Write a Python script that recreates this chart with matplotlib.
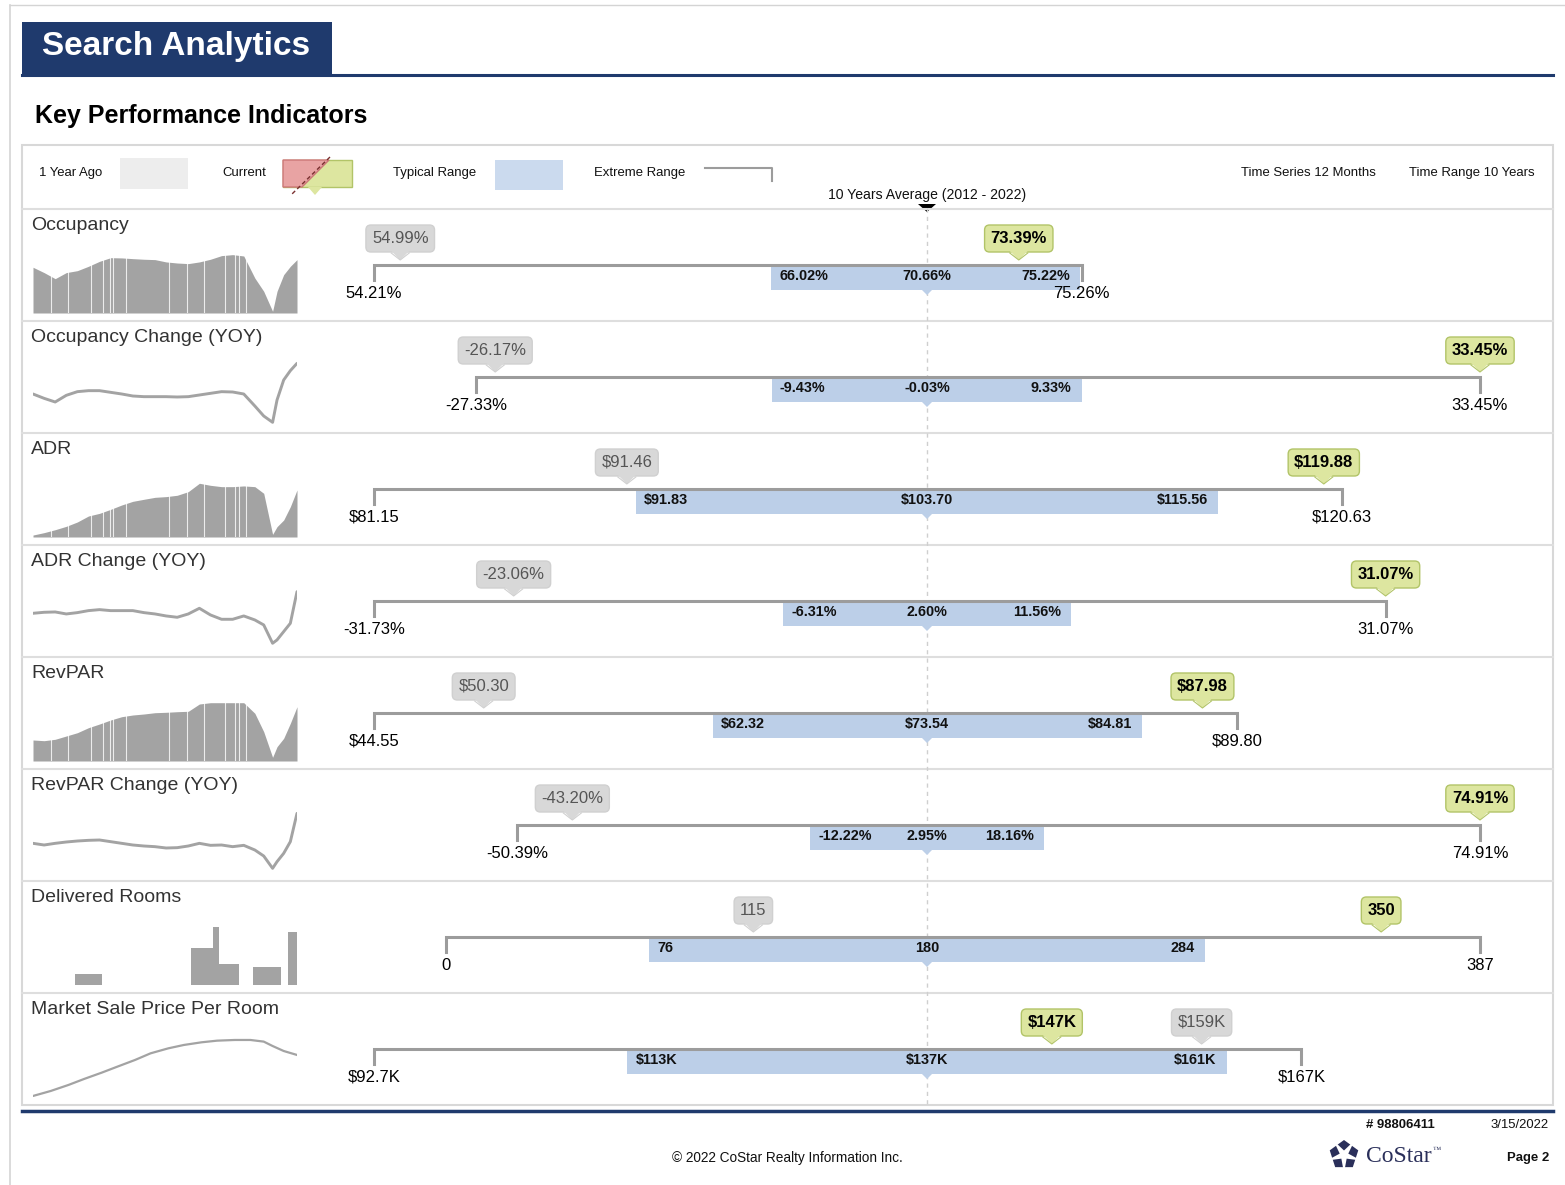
import matplotlib
matplotlib.use("Agg")
import matplotlib.pyplot as plt
from matplotlib import font_manager as fm
from matplotlib.patches import Rectangle, Polygon
import numpy as np

# KPI ranges over 10 years
kpi_names = ["Occupancy", "Occupancy Change (YOY)", "ADR", "ADR Change (YOY)",
             "RevPAR", "RevPAR Change (YOY)", "Delivered Rooms",
             "Market Sale Price Per Room"]
kpi_fmt = ["pct", "pct", "usd", "pct", "usd", "pct", "int", "usdk"]
extreme_min = [54.21, -27.33, 81.15, -31.73, 44.55, -50.39, 0, 92.7]
extreme_max = [75.26, 33.45, 120.63, 31.07, 89.80, 74.91, 387, 167]
typical_low = [66.02, -9.43, 91.83, -6.31, 62.32, -12.22, 76, 113]
ten_yr_avg = [70.66, -0.03, 103.70, 2.60, 73.54, 2.95, 180, 137]
typical_high = [75.22, 9.33, 115.56, 11.56, 84.81, 18.16, 284, 161]
year_ago = [54.99, -26.17, 91.46, -23.06, 50.30, -43.20, 115, 159]
current = [73.39, 33.45, 119.88, 31.07, 87.98, 74.91, 350, 147]

# sparklines, month index over the 10 year window
months = [0, 5, 10, 15, 20, 25, 30, 35, 40, 45, 50, 55, 60, 65, 70, 75, 80,
          85, 90, 95, 100, 104, 108, 110, 113, 116, 119]
occ_spark = [64.9, 60.5, 55.5, 60.5, 62.1, 65.7, 69.8, 72.8, 72.6, 72.0, 71.5,
             71.2, 69.3, 68.4, 67.9, 69.3, 71.5, 74.5, 75.3, 74.2, 56.0, 45.1,
             28.6, 45.1, 58.8, 65.7, 71.2]
occ_chg_spark = [4, -2.5, -8, 2, 7.5, 9, 9, 6.5, 4, 1, 0, 0, 0, -0.5, 0, 2.5,
                 5, 7.5, 7, 4, -14, -29, -38.5, -5, 25, 39, 50]
adr_spark = [61.1, 63.8, 67.1, 70.9, 75.8, 82.5, 85.5, 90.0, 94.9, 99.0, 101.3,
             103.5, 104.3, 105.8, 109.9, 119.3, 117.0, 115.5, 115.5, 116.3,
             115.5, 108.0, 61.9, 70.5, 78.0, 93.0, 111.8]
adr_chg_spark = [0, 1.2, 1.6, -0.8, 0.8, 3.2, 4.4, 3.2, 3.2, 3.2, 0.8, -0.8,
                 -3.2, -4.8, -0.8, 6, -2, -7.2, -7.2, -3.2, -8, -14, -36, -32,
                 -22, -12, 26]
revpar_spark = [50.0, 49.3, 50.7, 54.0, 57.3, 62.3, 66.0, 70.0, 73.3, 75.0,
                76.0, 77.3, 77.7, 78.3, 78.7, 86.0, 87.3, 87.3, 87.3, 87.3,
                76.7, 58.3, 32.7, 43.3, 51.7, 66.7, 83.3]
revpar_chg_spark = [2.5, 0, 2.5, 4.5, 6, 7, 7.5, 5, 2.5, 0, -1.5, -2.5, -4.5,
                    -4, -1.5, 2.5, -0.5, 0, -2.5, -0.5, -7.5, -16.5, -35, -25,
                    -12.5, 5, 47.5]
deliv_start = [19, 71, 81, 84, 99, 115]
deliv_len = [12, 10, 3, 9, 13, 5]
deliv_rooms = [50, 165, 262, 95, 80, 240]
price_months = [0, 8, 16, 23, 31, 38, 46, 53, 61, 68, 76, 83, 91, 98, 104,
                108, 113, 119]
price_spark = [95.0, 100.8, 107.8, 114.7, 122.1, 129.0, 136.8, 144.5, 150.3,
               154.2, 157.3, 159.2, 160.0, 160.0, 158.1, 153.0, 147.2, 142.6]

spark_data = [occ_spark, occ_chg_spark, adr_spark, adr_chg_spark,
              revpar_spark, revpar_chg_spark, None, price_spark]
spark_kind = ["area", "line", "area", "line", "area", "line", "bars", "price"]
spark_ylim = [(27.2, 88.2), (-42.5, 68.5), (58.9, 142.1), (-42.9, 46),
              (29, 103), (-42, 69), (0, 333), (93.8, 179.7)]
gap_months = [8, 16, 26, 31.5, 34.5, 36, 42, 61.5, 69.5, 77, 86.5, 91, 93, 96]


def has_font(name):
    try:
        fm.findfont(fm.FontProperties(family=name), fallback_to_default=False)
        return True
    except ValueError:
        return False


REG = "Liberation Sans"
if has_font("Liberation Sans Narrow"):
    NAR, NS = "Liberation Sans Narrow", 1.0
else:
    NAR, NS = "Liberation Sans", 0.82

NAVY = "#1f3a6d"
GRAY_LINE = "#9c9c9c"
BAR_BLUE = "#bccfe8"
SPARK = "#a3a3a3"
INK = "#111111"

W, H = 1565, 1185
fig = plt.figure(figsize=(W / 100, H / 100), dpi=100)
page = fig.add_axes([0, 0, 1, 1])
page.set_xlim(0, W)
page.set_ylim(H, 0)
page.axis("off")


def pax(x0, y0, x1, y1):
    a = fig.add_axes([x0 / W, 1 - y1 / H, (x1 - x0) / W, (y1 - y0) / H])
    a.axis("off")
    return a


def txt(ax, x, y, s, size, family=REG, **kw):
    kw.setdefault("va", "center")
    return ax.text(x, y, s, fontsize=size, family=family, parse_math=False, **kw)


def fmt(v, kind):
    if kind == "pct":
        return f"{v:.2f}%"
    if kind == "usd":
        return f"${v:.2f}"
    if kind == "usdk":
        return f"${v:g}K"
    return f"{v:g}"


# page frame
page.plot([10, W], [5, 5], color="#d4d4d4", lw=1)
page.plot([10, 10], [5, H], color="#d4d4d4", lw=1.2)

# header
page.add_patch(Rectangle((22, 22), 310, 53, fc=NAVY, ec="none"))
page.plot([22, 1553], [74.5, 74.5], color=NAVY, lw=2.2)
txt(page, 42, 47, "Search Analytics", 24, color="white", weight="bold")
txt(page, 35, 116, "Key Performance Indicators", 18, color="black", weight="bold")

# panel
ROW0, ROW_H = 209, 112
n_rows = len(kpi_names)
page.add_patch(Rectangle((22, 145), 1531, ROW0 + n_rows * ROW_H - 145,
                         fc="none", ec="#d8d8d8", lw=1.5))
page.plot([22, 1553], [ROW0 - 0.5, ROW0 - 0.5], color="#dedede", lw=1.5)
for k in range(1, n_rows):
    y = ROW0 + k * ROW_H
    page.plot([22, 1553], [y, y], color="#dedede", lw=1.5)
page.plot([22, 1553], [1110.5, 1110.5], color=NAVY, lw=2.5)

# legend row
LY = 173
LS = 11.5 * NS
txt(page, 39, LY, "1 Year Ago", LS, family=NAR, color=INK)
page.add_patch(Rectangle((120, 158), 68, 31, fc="#ededed", ec="none"))
txt(page, 222, LY, "Current", LS, family=NAR, color=INK)
page.add_patch(Rectangle((283, 160), 69, 27, fc="#dde6a0", ec="#b2c468", lw=1))
page.add_patch(Polygon([(283, 160), (329, 160), (302, 187), (283, 187)],
                       fc="#e8a3a3", ec="#cc7777", lw=1))
page.add_patch(Polygon([(308, 187), (322, 187), (315, 195)], fc="#dde6a0",
                       ec="none"))
page.plot([330, 292], [157, 194], color="#7a3030", lw=1, ls=(0, (3, 2)))
txt(page, 393, LY, "Typical Range", LS, family=NAR, color=INK)
page.add_patch(Rectangle((495, 160), 68, 30, fc="#cbdaee", ec="none"))
txt(page, 594, LY, "Extreme Range", LS, family=NAR, color=INK)
page.plot([705, 772, 772], [168, 168, 181], color=GRAY_LINE, lw=1.5)
txt(page, 1376, LY, "Time Series 12 Months", 11.5 * NS, family=NAR,
    color=INK, ha="right")
txt(page, 1535, LY, "Time Range 10 Years", 11.5 * NS, family=NAR,
    color=INK, ha="right")

CX, HALF = 927, 553
txt(page, CX, 195, "10 Years Average (2012 - 2022)", 12.3 * NS, family=NAR,
    color=INK, ha="center")
page.add_patch(Polygon([(918, 204), (936, 204), (927, 212)], fc="black",
                       ec="none"))
page.plot([CX, CX], [208, ROW0 + n_rows * ROW_H], color="#cfcfcf", lw=1,
          ls=(0, (3, 3)))


def callout(ax, x, s, u, green):
    fc = "#dde6a0" if green else "#d8d8d8"
    ec = "#b2c468" if green else "#d0d0d0"
    ax.text(x, 29.5, s, ha="center", va="center", fontsize=12, family=REG,
            color="black" if green else "#555555",
            weight="bold" if green else "normal", parse_math=False, zorder=5,
            bbox=dict(boxstyle="round,pad=0.36,rounding_size=0.3", fc=fc,
                      ec=ec, lw=1))
    ax.add_patch(Polygon([(x - 9 * u, 42), (x + 9 * u, 42), (x, 51)],
                         fc=fc, ec="none", zorder=6, clip_on=False))
    ax.plot([x - 9 * u, x, x + 9 * u], [44, 51, 44], color=ec, lw=0.8,
            zorder=6, clip_on=False)


for i, name in enumerate(kpi_names):
    top = ROW0 + i * ROW_H
    txt(page, 31, top + 16, name, 14, color="#333333")

    # range chart, centred on the 10 year average
    avg = ten_yr_avg[i]
    lo_e, hi_e = extreme_min[i], extreme_max[i]
    span = max(avg - lo_e, hi_e - avg)
    u = span / HALF
    ax = pax(CX - HALF, top, CX + HALF, top + ROW_H)
    ax.set_xlim(avg - span, avg + span)
    ax.set_ylim(ROW_H, 0)

    lo_t, hi_t = typical_low[i], typical_high[i]
    ax.add_patch(Rectangle((lo_t, 57), hi_t - lo_t, 24, fc=BAR_BLUE, ec="none",
                           zorder=2, clip_on=False))
    ax.add_patch(Polygon([(avg - 5 * u, 81), (avg + 5 * u, 81), (avg, 86)],
                         fc=BAR_BLUE, ec="none", zorder=2, clip_on=False))
    ax.plot([lo_e, lo_e, hi_e, hi_e], [71, 56, 56, 71], color=GRAY_LINE,
            lw=2.2, solid_joinstyle="miter", zorder=3, clip_on=False)

    kind = kpi_fmt[i]
    BS = 12.6 * NS
    txt(ax, lo_t + 8 * u, 67, fmt(lo_t, kind), BS, family=NAR,
        weight="bold", color=INK, ha="left", zorder=4)
    txt(ax, avg, 67, fmt(avg, kind), BS, family=NAR, weight="bold",
        color=INK, ha="center", zorder=4)
    txt(ax, hi_t - 10 * u, 67, fmt(hi_t, kind), BS, family=NAR,
        weight="bold", color=INK, ha="right", zorder=4)
    txt(ax, lo_e, 84, fmt(lo_e, kind), 12, color="black", ha="center")
    txt(ax, hi_e, 84, fmt(hi_e, kind), 12, color="black", ha="center")

    callout(ax, year_ago[i], fmt(year_ago[i], kind), u, False)
    callout(ax, current[i], fmt(current[i], kind), u, True)

    # sparkline
    sp = pax(33, top + 30, 297, top + 104)
    sp.set_xlim(0, 119)
    sp.set_ylim(*spark_ylim[i])
    sk = spark_kind[i]
    if sk == "area":
        sp.fill_between(months, spark_ylim[i][0], spark_data[i], color=SPARK,
                        lw=0)
        for g in gap_months:
            sp.axvline(g, color="white", lw=0.8, alpha=0.8)
    elif sk == "line":
        sp.plot(months, spark_data[i], color=SPARK, lw=2.1,
                solid_capstyle="round")
    elif sk == "price":
        sp.plot(price_months, spark_data[i], color=SPARK, lw=1.6)
    else:
        sp.bar(deliv_start, deliv_rooms, width=deliv_len, align="edge",
               color=SPARK, lw=0)

# footer
txt(page, 1400, 1125, "# 98806411", 11.5 * NS, family=NAR, color=INK,
    ha="center", weight="bold")
txt(page, 1549, 1125, "3/15/2022", 11.5 * NS, family=NAR, color=INK,
    ha="right")
txt(page, 787, 1158, "\u00a9 2022 CoStar Realty Information Inc.", 12 * NS,
    family=NAR, color=INK, ha="center")
txt(page, 1549, 1158, "Page 2", 11.5 * NS, family=NAR, color=INK,
    ha="right", weight="bold")

# CoStar mark
lcx, lcy, r = 1344, 1155, 15
ang = np.deg2rad(-90 + 72 * np.arange(5))
page.add_patch(Polygon(np.c_[lcx + r * np.cos(ang), lcy + r * np.sin(ang)],
                       fc="#2a2f5a", ec="none"))
star_ang = np.deg2rad(-90 + 36 + 36 * np.arange(10))
star_r = np.where(np.arange(10) % 2 == 0, r + 3, 4.5)
page.add_patch(Polygon(np.c_[lcx + star_r * np.cos(star_ang),
                             lcy + star_r * np.sin(star_ang)],
                       fc="white", ec="none"))
txt(page, 1366, 1156, "CoStar", 17, family="Liberation Serif", color="#2a2f5a")
txt(page, 1433, 1150, "\u2122", 6, family="Liberation Serif", color="#2a2f5a")

fig.savefig("out.png", dpi=100)
